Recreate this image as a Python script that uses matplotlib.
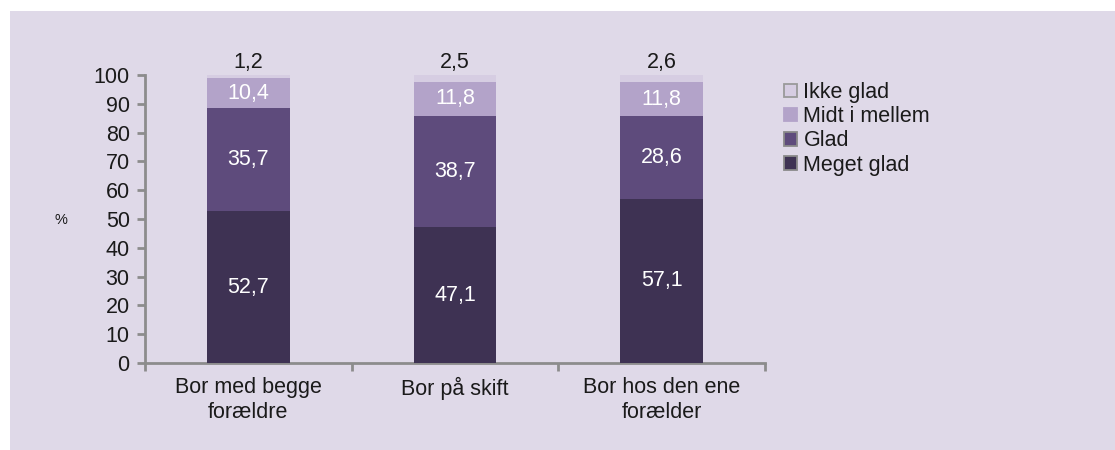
import matplotlib
matplotlib.use("Agg")
import matplotlib.pyplot as plt
from matplotlib.patches import Rectangle, Patch
import numpy as np

categories = ["Bor med begge\nforældre", "Bor på skift", "Bor hos den ene\nforælder"]
series_names = ["Meget glad", "Glad", "Midt i mellem", "Ikke glad"]
meget_glad = [52.7, 47.1, 57.1]
glad = [35.7, 38.7, 28.6]
midt = [10.4, 11.8, 11.8]
ikke_glad = [1.2, 2.5, 2.6]
colors = ["#3E3253", "#5E4B7C", "#B3A3C9", "#D6CDE2"]
yticks = list(range(0, 101, 10))

plt.rcParams['font.family'] = ['Liberation Sans', 'DejaVu Sans']
bg = "#DFD9E8"
FS = 15.5
TXT = "#1a1a1a"

fig = plt.figure(figsize=(11.15, 4.5), dpi=100)
fig.patch.set_facecolor("white")
fig.patches.append(Rectangle((10/1115, 0), 1 - 10/1115, 1 - 11/450,
                             transform=fig.transFigure, facecolor=bg,
                             edgecolor="none", zorder=-10))

ax = fig.add_axes([145/1115, 1 - 363/450, (765-145)/1115, (363-75)/450])
ax.set_facecolor("none")

x = np.arange(len(categories))
data = [meget_glad, glad, midt, ikke_glad]
bottom = np.zeros(len(categories))
for name, vals, c in zip(series_names, data, colors):
    ax.bar(x, vals, 0.4, bottom=bottom, color=c, label=name, zorder=3)
    for xi, v, bt in zip(x, vals, bottom):
        lbl = f"{v:.1f}".replace(".", ",")
        if name == "Ikke glad":
            ax.text(xi, bt + v + 0.6, lbl, ha="center", va="bottom",
                    fontsize=FS, color=TXT)
        else:
            ax.text(xi, bt + v / 2, lbl, ha="center", va="center",
                    fontsize=FS, color="white")
    bottom = bottom + np.array(vals)

ax.set_xlim(-0.5, 2.5)
ax.set_ylim(0, 100)
ax.set_yticks(yticks)
ax.set_yticklabels([str(t) for t in yticks], fontsize=FS, color=TXT)
ax.set_xticks(x)
ax.set_xticklabels(categories, fontsize=FS, color=TXT, linespacing=1.25)
ax.set_xticks([-0.5, 0.5, 1.5, 2.5], minor=True)
ax.tick_params(axis="x", which="major", length=0, pad=10)
ax.tick_params(axis="x", which="minor", length=6, width=2, color="#8C8C8C", direction="out")
ax.tick_params(axis="y", length=6, width=2, color="#8C8C8C", direction="out", pad=5)
for s in ["top", "right"]:
    ax.spines[s].set_visible(False)
for s in ["left", "bottom"]:
    ax.spines[s].set_color("#8C8C8C")
    ax.spines[s].set_linewidth(2)

fig.text(61/1115, 1 - 220/450, "%", fontsize=10.5, ha="center", va="center", color=TXT)

labels = ["Ikke glad", "Midt i mellem", "Glad", "Meget glad"]
h2 = [Patch(facecolor=colors[3], edgecolor="#9A9A9A", linewidth=1.3),
      Patch(facecolor=colors[2], edgecolor=colors[2], linewidth=1.3),
      Patch(facecolor=colors[1], edgecolor="#8A8A8A", linewidth=1.3),
      Patch(facecolor=colors[0], edgecolor="#8A8A8A", linewidth=1.3)]
leg = fig.legend(h2, labels, loc="upper left", bbox_to_anchor=(784/1115, 1 - 82/450),
                 frameon=False, fontsize=FS, handlelength=0.6, handleheight=0.6,
                 handletextpad=0.3, labelspacing=0.15, borderaxespad=0, borderpad=0)
for t in leg.get_texts():
    t.set_color(TXT)

fig.savefig("out.png", dpi=100, facecolor=fig.get_facecolor())
